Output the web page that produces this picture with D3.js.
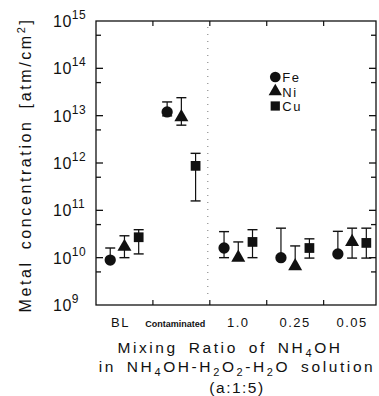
<!DOCTYPE html>
<html>
<head>
<meta charset="utf-8">
<script src="https://cdn.jsdelivr.net/npm/d3@7"></script>
<style>
  body { margin: 0; background: #fff; }
  svg { display: block; font-family: "Liberation Sans", Arial, sans-serif; }
</style>
</head>
<body>
<div id="chart"></div>
<script>
// Metal concentration after NH4OH-H2O2-H2O cleaning

const groups = ["BL", "Contaminated", "1.0", "0.25", "0.05"];

const feVal = [8.9e9, 1.2e13, 1.6e10, 1.0e10, 1.2e10];
const feHi  = [1.6e10, 1.95e13, 3.55e10, 4.2e10, 3.6e10];
const feLo  = [null, 9.9e12, 1.0e10, null, null];

const niVal = [1.7e10, 9.3e12, 1.0e10, 6.6e9, 2.15e10];
const niHi  = [2.9e10, 2.4e13, 2.15e10, 1.77e10, 4.2e10];
const niLo  = [1.0e10, 6.3e12, null, null, 9.8e9];

const cuVal = [2.7e10, 8.7e11, 2.15e10, 1.6e10, 2.05e10];
const cuHi  = [3.9e10, 1.6e12, 3.9e10, 2.5e10, 4.2e10];
const cuLo  = [1.2e10, 1.58e11, 1.0e10, 9.8e9, 9.8e9];

const yTicks = [9, 10, 11, 12, 13, 14, 15];

const width = 379, height = 396;
const margin = { top: 21, right: 3, bottom: 91, left: 96 };

const svg = d3.select("#chart").append("svg")
    .attr("width", width)
    .attr("height", height);

const x = d3.scaleLinear()
    .domain([-0.5, 4.42])
    .range([margin.left, width - margin.right]);

const y = d3.scaleLog()
    .domain([1e9, 1e15])
    .range([height - margin.bottom, margin.top]);

const series = [
  { name: "Fe", shape: d3.symbolCircle, size: 100, off: -0.25, val: feVal, hi: feHi, lo: feLo },
  { name: "Ni", shape: d3.symbolTriangle, size: 85, off: 0, val: niVal, hi: niHi, lo: niLo },
  { name: "Cu", shape: d3.symbolSquare, size: 95, off: 0.25, val: cuVal, hi: cuHi, lo: cuLo }
];

const x0 = x.range()[0], x1 = x.range()[1];
const y0 = y.range()[0], y1 = y.range()[1];

// dotted separator after the contaminated group
svg.append("line")
    .attr("x1", x(1.5) - 2).attr("x2", x(1.5) - 2)
    .attr("y1", y1 + 6).attr("y2", y0 - 6)
    .attr("stroke", "#777")
    .attr("stroke-width", 1)
    .attr("stroke-dasharray", "1,6");

// frame
svg.append("rect")
    .attr("x", x0).attr("y", y1)
    .attr("width", x1 - x0).attr("height", y0 - y1)
    .attr("fill", "none")
    .attr("stroke", "#111")
    .attr("stroke-width", 1.3);

// y ticks, left and right, major decades and a minor one at 5x
const minor = d3.range(9, 15).map(d => 5 * Math.pow(10, d));
const major = yTicks.map(d => Math.pow(10, d));

[[x0, 1], [x1, -1]].forEach(([ax, dir]) => {
  svg.append("g").selectAll("line.maj")
    .data(major.slice(1, -1))
    .join("line")
    .attr("x1", ax).attr("x2", ax + dir * 7)
    .attr("y1", d => y(d)).attr("y2", d => y(d))
    .attr("stroke", "#111").attr("stroke-width", 1.3);
  svg.append("g").selectAll("line.min")
    .data(minor)
    .join("line")
    .attr("x1", ax).attr("x2", ax + dir * 5)
    .attr("y1", d => y(d)).attr("y2", d => y(d))
    .attr("stroke", "#111").attr("stroke-width", 1.3);
});

// x ticks at group boundaries, top and bottom
const bounds = d3.range(0.5, groups.length - 1, 1);
svg.append("g").selectAll("line")
    .data(bounds)
    .join("line")
    .attr("x1", d => x(d)).attr("x2", d => x(d))
    .attr("y1", y1).attr("y2", y1 + 5)
    .attr("stroke", "#111").attr("stroke-width", 1.2);
svg.append("g").selectAll("line")
    .data(bounds)
    .join("line")
    .attr("x1", d => x(d)).attr("x2", d => x(d))
    .attr("y1", y0).attr("y2", y0 - 5)
    .attr("stroke", "#111").attr("stroke-width", 1.2);

// y tick labels 10^n
const yl = svg.append("g").selectAll("text")
    .data(yTicks)
    .join("text")
    .attr("x", x0 - 43)
    .attr("y", d => y(Math.pow(10, d)) + 6)
    .attr("font-size", 16)
    .attr("letter-spacing", 0.5)
    .attr("fill", "#111");
yl.append("tspan").text("10");
yl.append("tspan")
    .attr("dy", -8)
    .attr("font-size", 12)
    .text(d => d);

// x group labels
svg.append("g").selectAll("text")
    .data(groups)
    .join("text")
    .attr("x", (d, i) => i === 1 ? x(i) - 6 : (i === 0 ? x(i) - 4 : x(i)))
    .attr("y", y0 + 22)
    .attr("text-anchor", "middle")
    .attr("font-size", d => d === "Contaminated" ? 9 : 13)
    .attr("font-weight", d => d === "Contaminated" ? "bold" : "normal")
    .attr("letter-spacing", d => d === "Contaminated" ? 0 : 1.5)
    .attr("fill", "#111")
    .text(d => d);

// error bars
const capW = 5;
series.forEach(s => {
  const g = svg.append("g");
  const pts = s.val.map((v, i) => ({ i, v, hi: s.hi[i], lo: s.lo[i], cx: x(i + s.off) }));
  pts.forEach(p => {
    const top = p.hi != null ? p.hi : p.v;
    const bot = p.lo != null ? p.lo : p.v;
    g.append("line")
      .attr("x1", p.cx).attr("x2", p.cx)
      .attr("y1", y(top)).attr("y2", y(bot))
      .attr("stroke", "#111").attr("stroke-width", 1.2);
    if (p.hi != null) g.append("line")
      .attr("x1", p.cx - capW).attr("x2", p.cx + capW)
      .attr("y1", y(p.hi)).attr("y2", y(p.hi))
      .attr("stroke", "#111").attr("stroke-width", 1.4);
    if (p.lo != null) g.append("line")
      .attr("x1", p.cx - capW).attr("x2", p.cx + capW)
      .attr("y1", y(p.lo)).attr("y2", y(p.lo))
      .attr("stroke", "#111").attr("stroke-width", 1.4);
  });
  g.selectAll("path")
    .data(pts)
    .join("path")
    .attr("d", d3.symbol().type(s.shape).size(s.size))
    .attr("transform", d => `translate(${d.cx},${y(d.v)})`)
    .attr("fill", "#111");
});

// legend
const legend = svg.append("g")
    .attr("transform", `translate(${x(2.65)}, 77)`);
legend.selectAll("g")
    .data(series)
    .join("g")
    .attr("transform", (d, i) => `translate(0, ${i * 14.5})`)
    .call(g => {
      g.append("path")
        .attr("d", d => d3.symbol().type(d.shape).size(d.size * 0.9)())
        .attr("fill", "#111");
      g.append("text")
        .attr("x", 7)
        .attr("y", 5)
        .attr("font-size", 13)
        .attr("letter-spacing", 1.5)
        .attr("fill", "#111")
        .text(d => d.name);
    });

// y axis title
svg.append("text")
    .attr("transform", `translate(31, ${(y0 + y1) / 2 + 2}) rotate(-90)`)
    .attr("text-anchor", "middle")
    .attr("font-size", 16)
    .attr("letter-spacing", 2.6)
    .attr("word-spacing", 4)
    .attr("fill", "#111")
    .call(t => {
      t.append("tspan").text("Metal concentration [atm/cm");
      t.append("tspan").attr("dy", -6).attr("font-size", 11).text("2");
      t.append("tspan").attr("dy", 6).text("]");
    });

// x axis title, three lines
const xt = svg.append("g")
    .attr("fill", "#111")
    .attr("font-size", 15.5)
    .attr("letter-spacing", 2.6)
    .attr("word-spacing", 4)
    .attr("text-anchor", "middle");

// plain strings are normal text, one-item arrays are subscripts
function subText(sel, parts) {
  let shift = 0;
  parts.forEach(p => {
    const isSub = Array.isArray(p);
    const want = isSub ? 4 : 0;
    sel.append("tspan")
      .attr("dy", want - shift)
      .attr("font-size", isSub ? 11 : null)
      .text(isSub ? p[0] : p);
    shift = want;
  });
}

subText(xt.append("text").attr("x", 230).attr("y", 353),
  ["Mixing Ratio of NH", ["4"], "OH"]);
subText(xt.append("text").attr("x", 237).attr("y", 372),
  ["in NH", ["4"], "OH-H", ["2"], "O", ["2"], "-H", ["2"], "O solution"]);
xt.append("text").attr("x", 237).attr("y", 393).attr("letter-spacing", 1.5).text("(a:1:5)");
</script>
</body>
</html>
